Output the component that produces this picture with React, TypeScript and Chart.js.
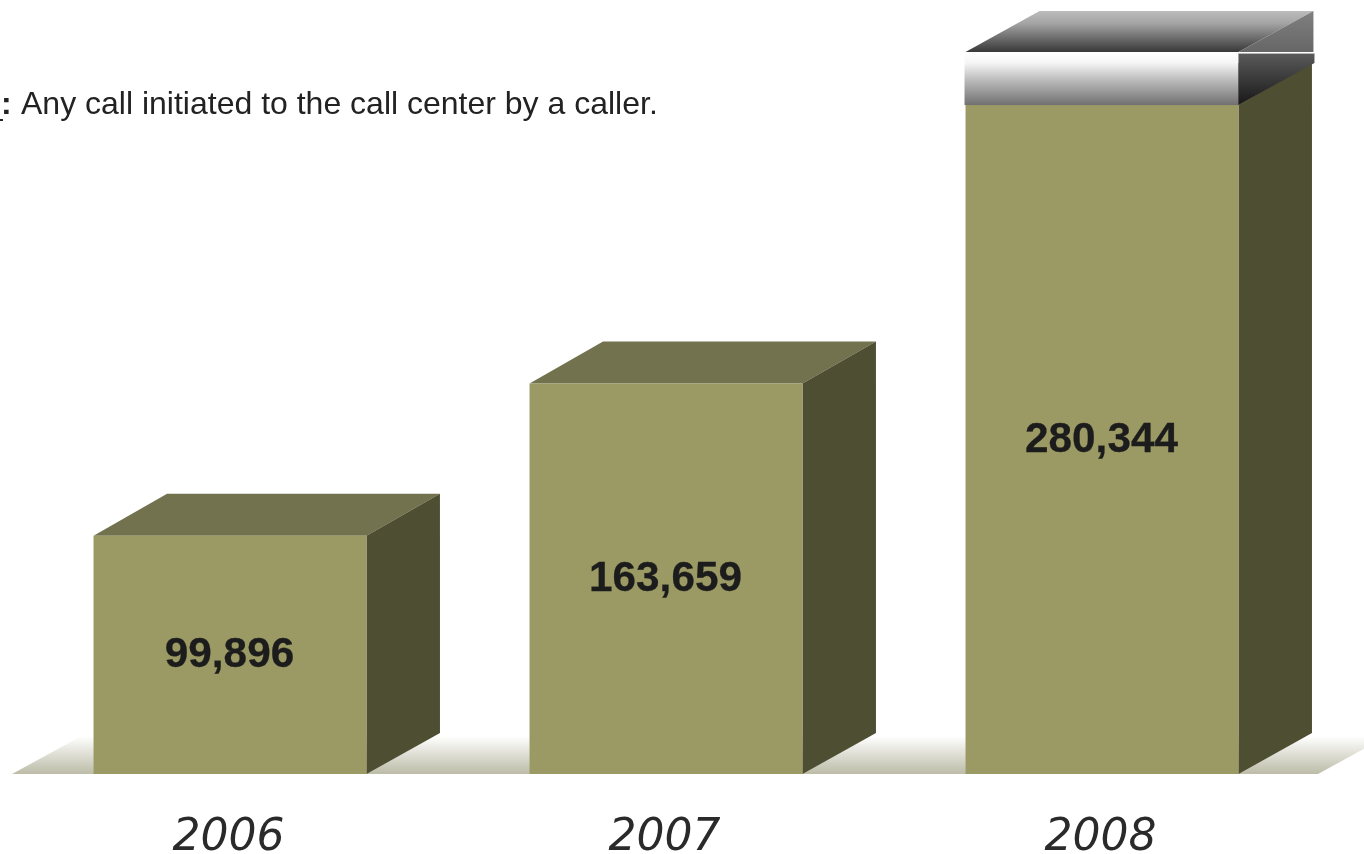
import React, { useEffect, useRef } from "react";
import { Chart, registerables } from "chart.js";

Chart.register(...registerables);

const years = ["2006", "2007", "2008"];
const calls = [99896, 163659, 280344];
const noteLabel = ":";
const noteText = "Any call initiated to the call center by a caller.";

const DEPTH_X = 73.5;
const TOP_DEPTH_Y = 42;
const BASE_DEPTH_Y = 41;
const CAP_H = 53;

function poly(ctx: CanvasRenderingContext2D, pts: number[][], fill: any) {
  ctx.beginPath();
  pts.forEach((p, i) => (i ? ctx.lineTo(p[0], p[1]) : ctx.moveTo(p[0], p[1])));
  ctx.closePath();
  ctx.fillStyle = fill;
  ctx.fill();
}

function grad(ctx: CanvasRenderingContext2D, y0: number, y1: number, stops: [number, string][]) {
  const g = ctx.createLinearGradient(0, y0, 0, y1);
  stops.forEach(([o, c]) => g.addColorStop(o, c));
  return g;
}

const box3d = {
  id: "box3d",
  beforeDatasetsDraw(chart: any) {
    const { ctx, chartArea, scales } = chart;
    const base = scales.y.getPixelForValue(0);
    const l = chartArea.left;
    const r = chartArea.left + 1306;
    ctx.save();
    poly(
      ctx,
      [[l, base], [l + 75, base - 41], [r + 75, base - 41], [r, base]],
      grad(ctx, base - 38, base, [[0, "#ffffff"], [1, "#bcbca8"]])
    );
    const bars = chart.getDatasetMeta(0).data;
    bars.forEach((b: any) => {
      const right = b.x + b.width / 2;
      const left = b.x - b.width / 2;
      poly(ctx, [[left, b.y], [left + DEPTH_X, b.y - TOP_DEPTH_Y], [right + DEPTH_X, b.y - TOP_DEPTH_Y], [right, b.y]], "#72724e");
      poly(ctx, [[right, b.y], [right + DEPTH_X, b.y - TOP_DEPTH_Y], [right + DEPTH_X, base - BASE_DEPTH_Y], [right, base]], "#4e4e33");
    });
    ctx.restore();
  },
  afterDatasetsDraw(chart: any) {
    const { ctx, scales } = chart;
    const bars = chart.getDatasetMeta(0).data;
    ctx.save();
    // value labels
    ctx.font = "bold 42.3px 'Liberation Sans'";
    ctx.fillStyle = "#1c1c1c";
    ctx.strokeStyle = "#1c1c1c";
    ctx.lineWidth = 0.3;
    ctx.textAlign = "center";
    ctx.textBaseline = "middle";
    bars.forEach((b: any, i: number) => {
      const base = scales.y.getPixelForValue(0);
      const txt = calls[i].toLocaleString("en-US");
      ctx.fillText(txt, b.x - 0.5, (b.y + base) / 2 + 0.5);
      ctx.strokeText(txt, b.x - 0.5, (b.y + base) / 2 + 0.5);
    });
    // metallic cap on the tallest box
    const b = bars[bars.length - 1];
    const left = b.x - b.width / 2;
    const right = b.x + b.width / 2;
    const bot = b.y;
    const top = bot - CAP_H;
    poly(ctx, [[left, top], [left + 74, top - 41], [right + 75, top - 41], [right, top]],
      grad(ctx, top - 41, top, [[0, "#bcbcbc"], [0.3, "#a4a4a4"], [1, "#383838"]]));
    poly(ctx, [[right, top], [right + 75, top - 41], [right + 75, top]],
      grad(ctx, top - 41, top, [[0, "#808080"], [1, "#666666"]]));
    ctx.fillStyle = grad(ctx, top, bot, [[0, "#ffffff"], [0.2, "#f6f6f6"], [0.55, "#b8b8b8"], [1, "#707070"]]);
    ctx.fillRect(left - 1, top, right - left + 1, CAP_H);
    poly(ctx, [[right, top + 1], [right + 76, top + 1], [right + 76, top + 11], [right, bot]],
      grad(ctx, top, bot, [[0, "#5c5c5c"], [1, "#181818"]]));
    ctx.fillStyle = "#ffffff";
    ctx.fillRect(right, top, 76, 1.5);
    // note
    ctx.textAlign = "left";
    ctx.textBaseline = "alphabetic";
    ctx.fillStyle = "#222222";
    ctx.font = "bold 32px 'Liberation Sans'";
    ctx.fillText(noteLabel, 1, 114);
    ctx.fillRect(0, 119, 3, 2);
    ctx.font = "32px 'Liberation Sans'";
    ctx.fillText(noteText, 21, 114);
    ctx.restore();
  },
};

export default function App() {
  const ref = useRef<HTMLCanvasElement>(null);
  useEffect(() => {
    document.body.style.margin = "0";
    document.body.style.background = "#ffffff";
    const chart = new Chart(ref.current as HTMLCanvasElement, {
      type: "bar",
      data: {
        labels: years,
        datasets: [
          {
            data: calls,
            backgroundColor: "#9b9a64",
            borderWidth: 0,
            barPercentage: 0.626,
            categoryPercentage: 1,
          },
        ],
      },
      options: {
        animation: false,
        responsive: false,
        layout: { padding: { left: 12, right: 44, top: 4, bottom: 0 } },
        plugins: { legend: { display: false }, tooltip: { enabled: false }, title: { display: false } },
        scales: {
          x: {
            grid: { display: false },
            border: { display: false },
            afterFit: (s: any) => {
              s.height = 80;
            },
            ticks: {
              padding: 30,
              labelOffset: -1.5,
              maxRotation: 0,
              color: "#2a2a2a",
              font: { family: "'DejaVu Sans'", style: "oblique", size: 44, weight: 200 },
            },
          },
          y: { display: false, min: 0, max: 322700 },
        },
      },
      plugins: [box3d],
    } as any);
    return () => chart.destroy();
  }, []);
  return <canvas ref={ref} width={1364} height={854} style={{ display: "block" }} />;
}
